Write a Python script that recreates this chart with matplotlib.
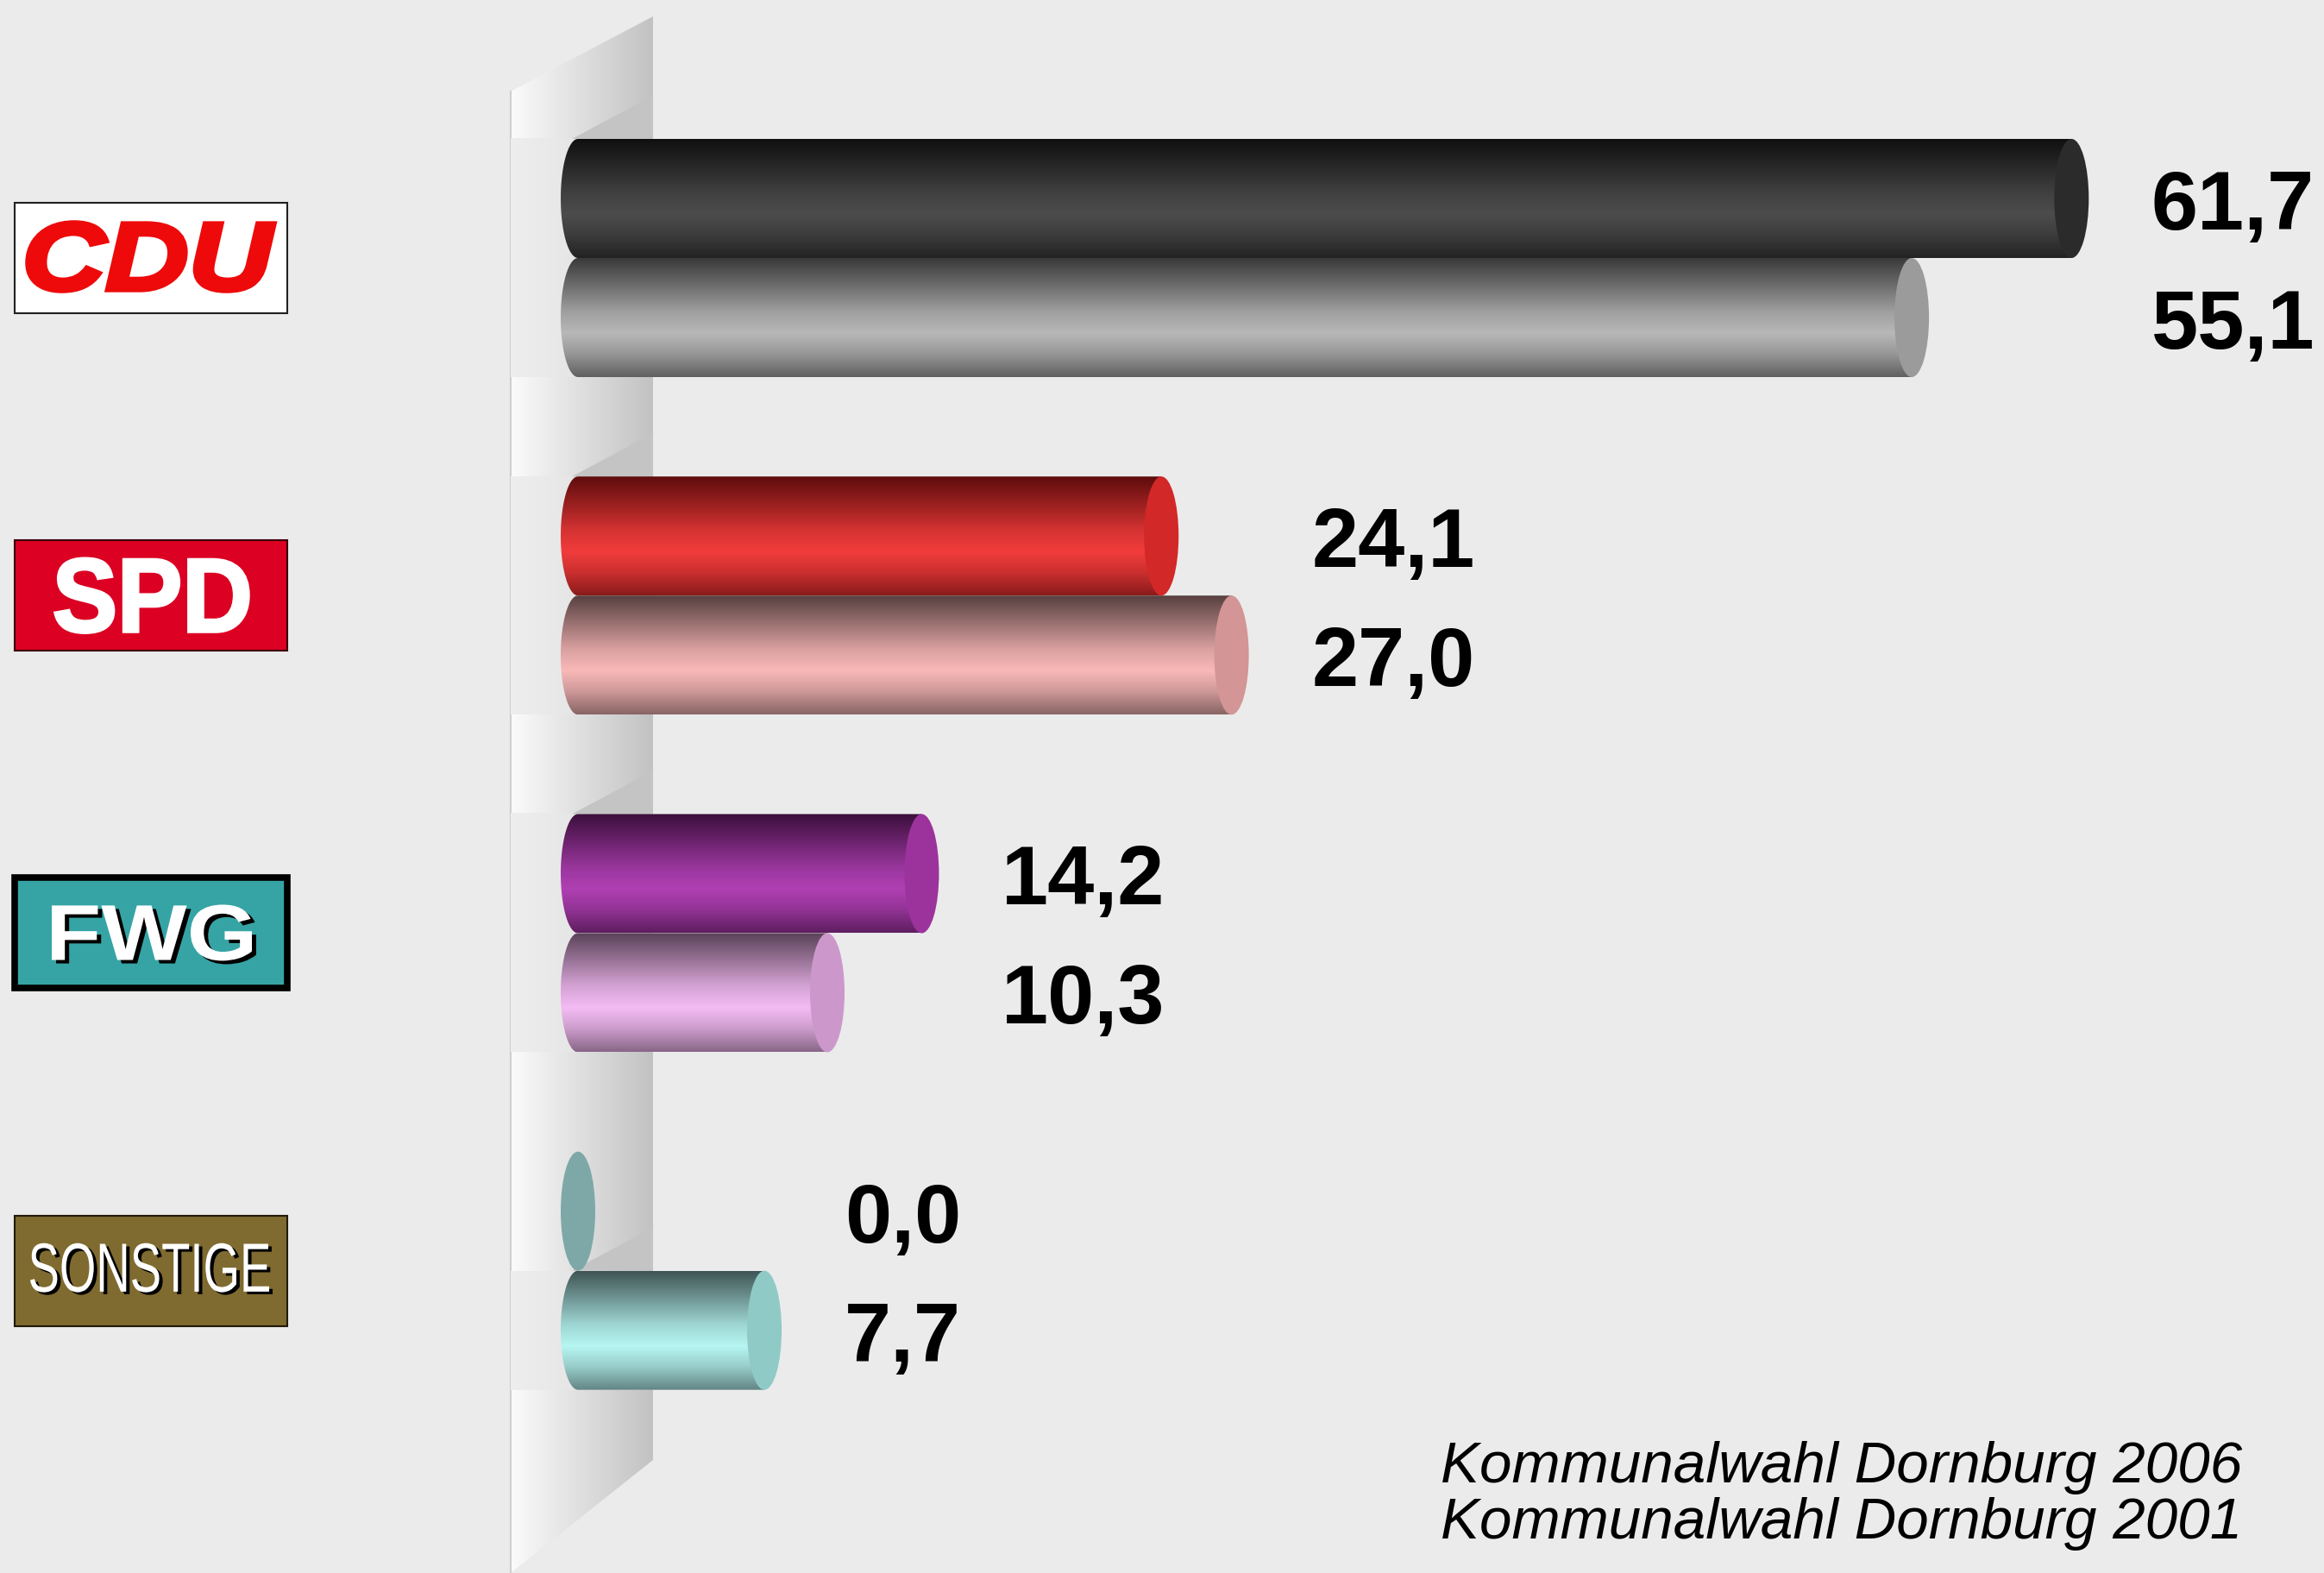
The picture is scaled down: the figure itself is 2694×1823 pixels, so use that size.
import numpy as np
import matplotlib
matplotlib.use("Agg")
import matplotlib.pyplot as plt
from matplotlib.patches import Ellipse, Polygon, PathPatch, Rectangle
from matplotlib.path import Path
from matplotlib.textpath import TextPath
from matplotlib.font_manager import FontProperties
from matplotlib.transforms import Affine2D
from matplotlib.colors import to_rgb

# Daten
parties = ["CDU", "SPD", "FWG", "SONSTIGE"]
votes_2006 = [61.7, 24.1, 14.2, 0.0]
votes_2001 = [55.1, 27.0, 10.3, 7.7]
year_labels = ["Kommunalwahl Dornburg 2006", "Kommunalwahl Dornburg 2001"]

# Farben pro Balken: (dunkel, glanz, deckel)
colors_2006 = [("#101010", "#4c4c4c", "#2b2b2b"),
               ("#5e0c0c", "#f23c3c", "#d22828"),
               ("#3c0f3c", "#b040b4", "#9c339c"),
               ("#5a7e7e", "#7ea8a8", "#7ea8a8")]
colors_2001 = [("#3a3a3a", "#b8b8b8", "#9b9b9b"),
               ("#584040", "#f9b8b8", "#d39595"),
               ("#5a4258", "#f4bcf4", "#cc98cc"),
               ("#3f5555", "#b6f6f2", "#90cac6")]

W, H = 2694, 1824
BG = "#ebebeb"
PX_PER_UNIT = 28.06
ZERO_PX = 670
FIRST_PX = 300
ROW_PX = 138
GROUP_GAP = 2.835
cap_w = 20 / PX_PER_UNIT

fig = plt.figure(figsize=(W / 100, H / 100), dpi=100, facecolor=BG)
bg = fig.add_axes([0, 0, 1, 1])
bg.set_xlim(0, W)
bg.set_ylim(H, 0)
bg.axis("off")

ax = fig.add_axes([0, 0, 1, 1])
ax.patch.set_alpha(0)
ax.axis("off")
xlim = (-ZERO_PX / PX_PER_UNIT, (W - ZERO_PX) / PX_PER_UNIT)
ylim = ((H - FIRST_PX) / ROW_PX, -FIRST_PX / ROW_PX)
ax.set_xlim(*xlim)
ax.set_ylim(*ylim)


def to_px(x, y):
    return bg.transData.inverted().transform(ax.transData.transform((x, y)))


def hgrad(c0, c1, n=256):
    a, b = np.array(to_rgb(c0)), np.array(to_rgb(c1))
    t = np.linspace(0, 1, n)[:, None]
    return (a + t * (b - a))[None, :, :]


prof_t = [0, 0.2, 0.45, 0.63, 0.8, 1.0]
prof_s = [0, 0.35, 0.8, 1.0, 0.75, 0.3]


def vshade(dark, light, n=256):
    t = np.linspace(0, 1, n)
    s = np.interp(t, prof_t, prof_s)[:, None]
    d, l = np.array(to_rgb(dark)), np.array(to_rgb(light))
    return (d + s * (l - d))[:, None, :]


def cylinder(v, yc, dark, light, cap):
    if v <= 0:
        ax.add_patch(Ellipse((0, yc), 2 * cap_w, 1.0, fc=cap, ec="none", zorder=3))
        return
    th = np.linspace(np.pi / 2, 3 * np.pi / 2, 50)
    xs = cap_w * np.cos(th)
    ys = yc + 0.5 * np.sin(th)
    verts = list(zip(xs, ys)) + [(v, yc - 0.5), (v, yc + 0.5), (0, yc + 0.5)]
    body = PathPatch(Path(verts), fc="none", ec="none")
    ax.add_patch(body)
    im = ax.imshow(vshade(dark, light), extent=(-cap_w, v, yc + 0.5, yc - 0.5),
                   aspect="auto", interpolation="bilinear", zorder=2)
    im.set_clip_path(body)
    ax.add_patch(Ellipse((v, yc), 2 * cap_w, 1.0, fc=cap, ec="none", zorder=3))


# Wand
wall = Polygon([(592, 107), (757, 20), (757, 1693), (592, 1824)], closed=True, fc="none", ec="none")
bg.add_patch(wall)
im = bg.imshow(hgrad("#fbfbfb", "#c2c2c2"), extent=(592, 757, H, 0), aspect="auto", zorder=1)
im.set_clip_path(wall)
bg.plot([592, 592], [107, H], color="#cfcfcf", lw=1.5, zorder=2)

centers = [g * GROUP_GAP for g in range(len(parties))]

for g, yc in enumerate(centers):
    rows = [(votes_2006[g], yc - 0.5), (votes_2001[g], yc + 0.5)]
    first = True
    for v, yr in rows:
        if v <= 0:
            continue
        _, ytop = to_px(0, yr - 0.5)
        _, ybot = to_px(0, yr + 0.5)
        bg.imshow(hgrad("#eeeeee", "#dcdcdc"), extent=(592, 757, ybot, ytop), aspect="auto", zorder=2)
        if first:
            bg.add_patch(Polygon([(663, ytop), (757, ytop - 50), (757, ytop)], closed=True,
                                 fc="#c4c4c4", ec="none", zorder=3))
            first = False

# Zylinder
for g, yc in enumerate(centers):
    cylinder(votes_2006[g], yc - 0.5, *colors_2006[g])
    cylinder(votes_2001[g], yc + 0.5, *colors_2001[g])
    xl = max(votes_2006[g], votes_2001[g]) + 3.3
    for v, yr in [(votes_2006[g], yc - 0.5), (votes_2001[g], yc + 0.5)]:
        ax.text(xl, yr + 35 / ROW_PX, f"{v:.1f}".replace(".", ","), fontsize=70,
                fontweight="bold", family="Liberation Sans", ha="left", va="baseline", zorder=5)

ax.set_xlim(*xlim)
ax.set_ylim(*ylim)

# Partei-Logos
logo_style = {
    "CDU": dict(fc="#ffffff", ec="#202020", lw=1.5, tc="#ee0a0a", shadow=None, stroke=4,
                prop=FontProperties(family="Liberation Sans", weight="bold", style="italic"),
                box=(32, 318, -41, 38)),
    "SPD": dict(fc="#dc0022", ec="#3a0008", lw=1.5, tc="#ffffff", shadow=None, stroke=2.5,
                prop=FontProperties(family="Liberation Sans", weight="bold"),
                box=(64, 288, -43, 43)),
    "FWG": dict(fc="#36a4a5", ec="#000000", lw=5.5, tc="#ffffff", shadow=(5, 4), stroke=0,
                prop=FontProperties(family="Liberation Sans", weight="bold"),
                box=(60, 292, -33, 32)),
    "SONSTIGE": dict(fc="#7f6a30", ec="#201a08", lw=1.5, tc="#ffffff", shadow=(4, 3), stroke=0,
                     prop=FontProperties(family="Liberation Sans"),
                     box=(35, 312, -32, 25)),
}


def fitted_text(s, prop, x0, x1, top, bottom, color, zorder, stroke=0):
    tp = TextPath((0, 0), s, size=100, prop=prop)
    ext = tp.get_extents()
    sx = (x1 - x0) / ext.width
    sy = (bottom - top) / ext.height
    tr = Affine2D().translate(-ext.x0, -ext.y0).scale(sx, -sy).translate(x0, bottom) + bg.transData
    bg.add_patch(PathPatch(tp, fc=color, ec=color if stroke else "none", lw=stroke,
                           transform=tr, zorder=zorder))


for g, name in enumerate(parties):
    st = logo_style[name]
    _, yp = to_px(0, centers[g])
    bg.add_patch(Rectangle((17, yp - 64), 316, 128, fc=st["fc"], ec=st["ec"], lw=st["lw"], zorder=4))
    x0, x1, t0, t1 = st["box"]
    if st["shadow"]:
        dx, dy = st["shadow"]
        fitted_text(name, st["prop"], x0 + dx, x1 + dx, yp + t0 + dy, yp + t1 + dy, "#000000", 5)
    fitted_text(name, st["prop"], x0, x1, yp + t0, yp + t1, st["tc"], 6, st["stroke"])

# Fussnote
for i, lab in enumerate(year_labels):
    bg.text(1670, 1718 + 65 * i, lab, fontsize=48.5, style="italic", family="Liberation Sans",
            ha="left", va="baseline", zorder=6)

fig.savefig("out.png", dpi=100, facecolor=fig.get_facecolor())
